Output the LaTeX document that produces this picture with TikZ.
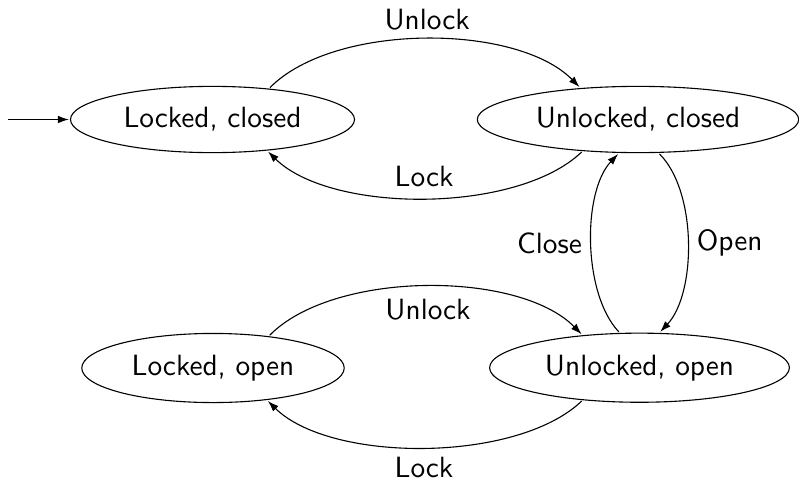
\documentclass[tikz,border=0pt]{standalone}
\usetikzlibrary{arrows.meta,shapes.geometric}

\tikzset{
  state/.style={ellipse, draw, line width=1.1pt, scale=2.93, inner sep=3.9pt, font=\sffamily},
  % label shifts are given in the label's own (scaled) units
  lbl/.style={scale=2.93, font=\sffamily, inner sep=0pt},
  edge/.style={line width=1.1pt, -{Latex[length=11pt,width=7.5pt]}}
}

\begin{document}
\begin{tikzpicture}[x=1pt, y=-1pt]
  \useasboundingbox (0,0) rectangle (799,479);

  % states of the door
  \node[state] (LC) at (212.5,119.5) {Locked, closed};
  \node[state] (UC) at (638,119.5)   {Unlocked, closed};
  \node[state] (LO) at (213,368)     {Locked, open};
  \node[state] (UO) at (639.5,367.7) {Unlocked, open};

  % initial state marker
  \coordinate (start) at (8,119.5);
  \draw[edge] (start) -- (LC);

  % closed door: lock / unlock
  \draw[edge] (LC.29) .. controls +(64,-65) and +(-63,-64) .. (UC.151)
    node[lbl, pos=0.5, xshift=0.68pt, yshift=6.66pt] {Unlock};
  \draw[edge] (UC.210) .. controls +(-65,62) and +(63,62) .. (LC.330.5)
    node[lbl, pos=0.5, yshift=7.41pt] {Lock};

  % open door: lock / unlock
  \draw[edge] (LO.30) .. controls +(64,-65) and +(-63,-64) .. (UO.150)
    node[lbl, pos=0.5, xshift=0.68pt, yshift=-7.85pt] {Unlock};
  \draw[edge] (UO.210.6) .. controls +(-65,62) and +(63,62) .. (LO.329)
    node[lbl, pos=0.5, yshift=-6.83pt] {Lock};

  % unlocked door: open / close
  \draw[edge] (UC.302) .. controls +(38,38) and +(36,-38) .. (UO.60)
    node[lbl, pos=0.5, xshift=14.33pt] {Open};
  \draw[edge] (UO.120) .. controls +(-36,-38) and +(-36,38) .. (UC.240)
    node[lbl, pos=0.5, xshift=-14.33pt] {Close};
\end{tikzpicture}
\end{document}
